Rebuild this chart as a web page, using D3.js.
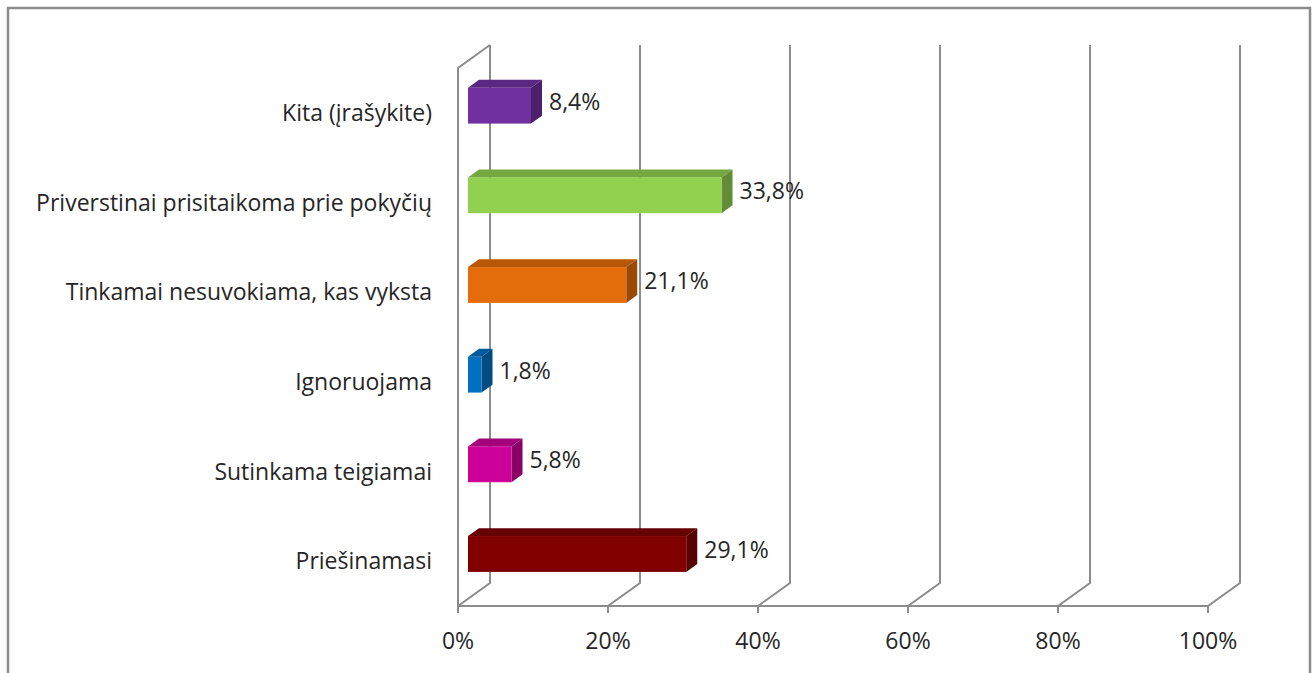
<!DOCTYPE html>
<html>
<head>
<meta charset="utf-8">
<script src="https://cdn.jsdelivr.net/npm/d3@7"></script>
<style>
  body { margin: 0; background: #fff; }
  svg text { font-family: "Open Sans", Lato, sans-serif; fill: #262626; }
</style>
</head>
<body>
<div id="main"></div>
<script>
// chart data, top row first
var categories = ["Kita (įrašykite)", "Priverstinai prisitaikoma prie pokyčių", "Tinkamai nesuvokiama, kas vyksta",
                  "Ignoruojama", "Sutinkama teigiamai", "Priešinamasi"];
var values = [8.4, 33.8, 21.1, 1.8, 5.8, 29.1];
var valueLabels = ["8,4%", "33,8%", "21,1%", "1,8%", "5,8%", "29,1%"];
var barColors = ["#7030A0", "#92D050", "#E46C0A", "#0070C0", "#CC0099", "#800000"];
var tickValues = [0, 20, 40, 60, 80, 100];
var tickLabels = ["0%", "20%", "40%", "60%", "80%", "100%"];

var svg = d3.select("#main").append("svg")
    .attr("width", 1315)
    .attr("height", 673);

// outer frame
svg.append("rect")
    .attr("x", 8).attr("y", 8)
    .attr("width", 1302).attr("height", 680)
    .attr("fill", "none")
    .attr("stroke", "#8c8c8c")
    .attr("stroke-width", 2.5);

var plotLeft = 458, plotTop = 68, plotBottom = 606, plotW = 750;
var depthX = 32, depthY = -23; // full depth offset of the 3d box
var fontSize = 23;

var x = d3.scaleLinear().domain([0, 100]).range([plotLeft, plotLeft + plotW]);
var y = d3.scaleBand().domain(categories).range([plotTop, plotBottom]);

function px(v, d) { return x(v) + d * depthX; }
function py(yy, d) { return yy + d * depthY; }

var grid = svg.append("g")
    .attr("fill", "none")
    .attr("stroke", "#8c8c8c")
    .attr("stroke-width", 2);

// back wall verticals + floor diagonals
tickValues.forEach(function(t) {
    grid.append("path")
        .attr("d", "M" + x(t) + "," + (plotBottom + 7) + "L" + x(t) + "," + plotBottom +
                   "L" + px(t, 1) + "," + py(plotBottom, 1) + "L" + px(t, 1) + "," + py(plotTop, 1));
});
// floor front edge
grid.append("path").attr("d", "M" + x(0) + "," + plotBottom + "L" + x(100) + "," + plotBottom);
// left wall
grid.append("path")
    .attr("d", "M" + x(0) + "," + plotBottom + "L" + x(0) + "," + plotTop + "L" + px(0, 1) + "," + py(plotTop, 1));

// tick labels
svg.append("g").selectAll("text")
    .data(tickValues)
    .join("text")
    .attr("x", function(d) { return x(d); })
    .attr("y", 649)
    .attr("text-anchor", "middle")
    .attr("font-size", fontSize)
    .text(function(d, i) { return tickLabels[i]; });

// category labels
svg.append("g").selectAll("text")
    .data(categories)
    .join("text")
    .attr("x", 432)
    .attr("y", function(d) { return y(d) + y.bandwidth() / 2; })
    .attr("dy", "0.35em")
    .attr("text-anchor", "end")
    .attr("font-size", fontSize)
    .text(function(d) { return d; });

// 3d bars
var d0 = 10 / 32, d1 = 21 / 32;
var barH = y.bandwidth() * 0.4;

var bars = svg.append("g").selectAll("g")
    .data(categories)
    .join("g");

bars.each(function(c, i) {
    var g = d3.select(this);
    var v = values[i];
    var col = d3.color(barColors[i]);
    var yTop = y(c) + (y.bandwidth() - barH) / 2;
    var yBot = yTop + barH;
    var fx0 = px(0, d0), fx1 = px(v, d0);
    var bx0 = px(0, d1), bx1 = px(v, d1);
    var fyT = py(yTop, d0), fyB = py(yBot, d0);
    var byT = py(yTop, d1), byB = py(yBot, d1);

    // top face
    g.append("path")
        .attr("d", "M" + fx0 + "," + fyT + "L" + bx0 + "," + byT + "L" + bx1 + "," + byT + "L" + fx1 + "," + fyT + "Z")
        .attr("fill", col.darker(0.6));
    // right side
    g.append("path")
        .attr("d", "M" + fx1 + "," + fyT + "L" + bx1 + "," + byT + "L" + bx1 + "," + byB + "L" + fx1 + "," + fyB + "Z")
        .attr("fill", col.darker(1.1));
    // front
    g.append("rect")
        .attr("x", fx0).attr("y", fyT)
        .attr("width", fx1 - fx0).attr("height", barH)
        .attr("fill", col);

    g.append("text")
        .attr("x", bx1 + 7)
        .attr("y", (fyT + byB) / 2)
        .attr("dy", "0.35em")
        .attr("font-size", fontSize)
        .text(valueLabels[i]);
});
</script>
</body>
</html>
